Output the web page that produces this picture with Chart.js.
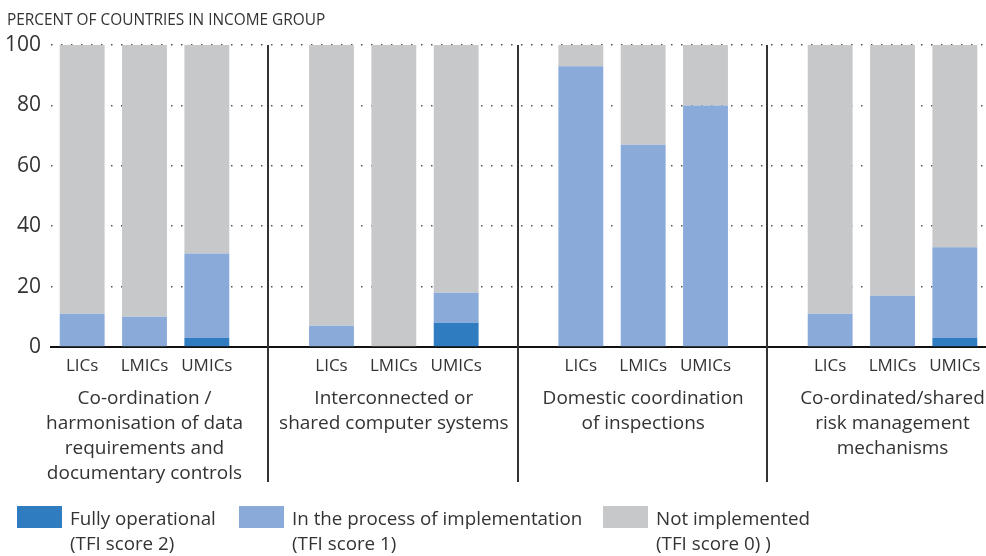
<!DOCTYPE html>
<html>
<head>
<meta charset="utf-8">
<script src="https://cdn.jsdelivr.net/npm/chart.js@4/dist/chart.umd.min.js"></script>
<style>
  html, body { margin: 0; padding: 0; background: #fff; }
  canvas { display: block; }
</style>
</head>
<body>
<canvas id="tfiChart" width="986" height="556"></canvas>
<script>
// income groups per measure, '' = spacer slot between measures
var categories = ['LICs', 'LMICs', 'UMICs', '', 'LICs', 'LMICs', 'UMICs', '', 'LICs', 'LMICs', 'UMICs', '', 'LICs', 'LMICs', 'UMICs'];
var fullyOperational = [0, 0, 3, null, 0, 0, 8, null, 0, 0, 0, null, 0, 0, 3];
var inProcess = [11, 10, 28, null, 7, 0, 10, null, 93, 67, 80, null, 11, 17, 30];
var notImplemented = [89, 90, 69, null, 93, 100, 82, null, 7, 33, 20, null, 89, 83, 67];
var yTicks = [0, 20, 40, 60, 80, 100];

var groupLabels = [
    ['Co-ordination /', 'harmonisation of data', 'requirements and', 'documentary controls'],
    ['Interconnected or', 'shared computer systems'],
    ['Domestic coordination', 'of inspections'],
    ['Co-ordinated/shared', 'risk management', 'mechanisms']
];
var legendLabels = [
    ['Fully operational', '(TFI score 2)'],
    ['In the process of implementation', '(TFI score 1)'],
    ['Not implemented', '(TFI score 0) )']
];
var yTitle = 'PERCENT OF COUNTRIES IN INCOME GROUP';

var FONT = "'Open Sans', 'Noto Sans', sans-serif";
var TEXT = '#333333';

//separators, group labels, title and legend//
var extras = {
    id: 'extras',
    afterDatasetsDraw: function(chart) {
        var c = chart.ctx, area = chart.chartArea, xs = chart.scales.x;
        c.save();
        // vertical separators on the spacer slots
        c.strokeStyle = '#333';
        c.lineWidth = 2;
        categories.forEach(function(cat, i) {
            if (cat !== '') return;
            var x = Math.round(xs.getPixelForValue(i)) - 1;
            c.beginPath();
            c.moveTo(x, area.top);
            c.lineTo(x, 482);
            c.stroke();
        });
        // group names under the bars
        c.fillStyle = TEXT;
        c.font = '19px ' + FONT;
        c.textAlign = 'center';
        c.textBaseline = 'middle';
        groupLabels.forEach(function(lines, g) {
            var cx = xs.getPixelForValue(g * 4 + 1);
            lines.forEach(function(line, k) {
                c.fillText(line, cx, 399 + k * 25);
            });
        });
        // axis title
        c.textAlign = 'left';
        c.font = '15.4px ' + FONT;
        c.fillText(yTitle, 7, 21);
        // legend
        var boxX = [17, 239, 603];
        c.font = '18.8px ' + FONT;
        chart.data.datasets.forEach(function(ds, i) {
            c.fillStyle = ds.backgroundColor;
            c.fillRect(boxX[i], 506, 45, 22);
            c.fillStyle = TEXT;
            legendLabels[i].forEach(function(line, k) {
                c.fillText(line, boxX[i] + 53, 520 + k * 25);
            });
        });
        c.restore();
    }
};

var ctx = document.getElementById('tfiChart').getContext('2d');
var tfiChart = new Chart(ctx, {
    type: 'bar',
    data: {
        labels: categories,
        datasets: [{
            label: 'Fully operational',
            data: fullyOperational,
            backgroundColor: '#2f7dc0'
        }, {
            label: 'In the process of implementation',
            data: inProcess,
            backgroundColor: '#8aaad9'
        }, {
            label: 'Not implemented',
            data: notImplemented,
            backgroundColor: '#c7c8ca'
        }]
    },
    options: {
        responsive: false,
        animation: false,
        devicePixelRatio: 1,
        layout: { padding: { top: 45, right: 0, left: 0, bottom: 0 } },
        barPercentage: 0.72,
        categoryPercentage: 1,
        plugins: {
            legend: { display: false },
            tooltip: { enabled: false }
        },
        scales: {
            x: {
                stacked: true,
                grid: { display: false },
                border: { display: true, color: '#111', width: 2 },
                ticks: {
                    color: TEXT,
                    font: { family: FONT, size: 17 },
                    padding: 1,
                    maxRotation: 0,
                    autoSkip: false
                },
                afterFit: function(scale) { scale.height = 556 - 347; }
            },
            y: {
                stacked: true,
                min: 0,
                max: 100,
                afterBuildTicks: function(scale) {
                    scale.ticks = yTicks.map(function(v) { return { value: v }; });
                },
                grid: {
                    drawTicks: false,
                    lineWidth: 1.5,
                    color: function(c) { return c.tick && c.tick.value === 0 ? 'rgba(0,0,0,0)' : '#555'; }
                },
                border: { display: false, dash: [1.5, 8.5] },
                ticks: {
                    color: TEXT,
                    font: { family: FONT, size: 21 },
                    padding: 10
                },
                afterFit: function(scale) { scale.width = 51; }
            }
        }
    },
    plugins: [extras]
});
</script>
</body>
</html>
